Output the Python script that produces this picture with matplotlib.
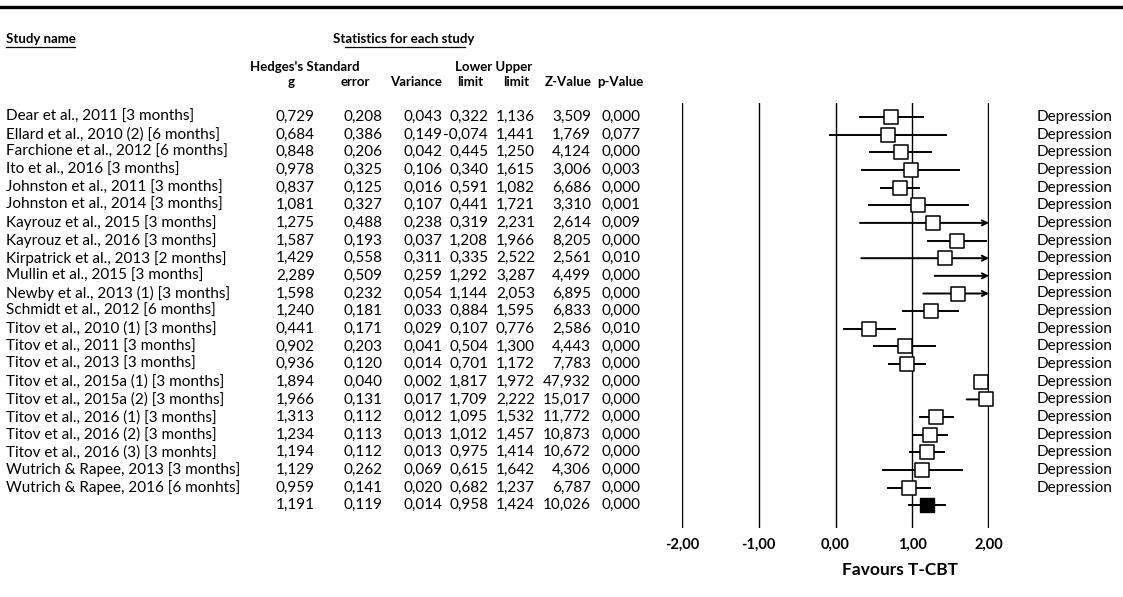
import matplotlib
matplotlib.use("Agg")
import matplotlib.pyplot as plt
from matplotlib.lines import Line2D
from matplotlib.transforms import blended_transform_factory

# Study-level statistics (Hedges's g, T-CBT follow-up)
studies = [
    "Dear et al., 2011 [3 months]",
    "Ellard et al., 2010 (2) [6 months]",
    "Farchione et al., 2012 [6 months]",
    "Ito et al., 2016 [3 months]",
    "Johnston et al., 2011 [3 months]",
    "Johnston et al., 2014 [3 months]",
    "Kayrouz et al., 2015 [3 months]",
    "Kayrouz et al., 2016 [3 months]",
    "Kirpatrick et al., 2013 [2 months]",
    "Mullin et al., 2015 [3 months]",
    "Newby et al., 2013 (1) [3 months]",
    "Schmidt et al., 2012 [6 months]",
    "Titov et al., 2010 (1) [3 months]",
    "Titov et al., 2011 [3 months]",
    "Titov et al., 2013 [3 months]",
    "Titov et al., 2015a (1) [3 months]",
    "Titov et al., 2015a (2) [3 months]",
    "Titov et al., 2016 (1) [3 months]",
    "Titov et al., 2016 (2) [3 months]",
    "Titov et al., 2016 (3) [3 monhts]",
    "Wutrich & Rapee, 2013 [3 months]",
    "Wutrich & Rapee, 2016 [6 monhts]",
]
hedges_g = [0.729, 0.684, 0.848, 0.978, 0.837, 1.081, 1.275, 1.587, 1.429, 2.289, 1.598,
            1.240, 0.441, 0.902, 0.936, 1.894, 1.966, 1.313, 1.234, 1.194, 1.129, 0.959]
std_err = [0.208, 0.386, 0.206, 0.325, 0.125, 0.327, 0.488, 0.193, 0.558, 0.509, 0.232,
           0.181, 0.171, 0.203, 0.120, 0.040, 0.131, 0.112, 0.113, 0.112, 0.262, 0.141]
variance = [0.043, 0.149, 0.042, 0.106, 0.016, 0.107, 0.238, 0.037, 0.311, 0.259, 0.054,
            0.033, 0.029, 0.041, 0.014, 0.002, 0.017, 0.012, 0.013, 0.013, 0.069, 0.020]
lower = [0.322, -0.074, 0.445, 0.340, 0.591, 0.441, 0.319, 1.208, 0.335, 1.292, 1.144,
         0.884, 0.107, 0.504, 0.701, 1.817, 1.709, 1.095, 1.012, 0.975, 0.615, 0.682]
upper = [1.136, 1.441, 1.250, 1.615, 1.082, 1.721, 2.231, 1.966, 2.522, 3.287, 2.053,
         1.595, 0.776, 1.300, 1.172, 1.972, 2.222, 1.532, 1.457, 1.414, 1.642, 1.237]
z_value = [3.509, 1.769, 4.124, 3.006, 6.686, 3.310, 2.614, 8.205, 2.561, 4.499, 6.895,
           6.833, 2.586, 4.443, 7.783, 47.932, 15.017, 11.772, 10.873, 10.672, 4.306, 6.787]
p_value = [0.000, 0.077, 0.000, 0.003, 0.000, 0.001, 0.009, 0.000, 0.010, 0.000, 0.000,
           0.000, 0.010, 0.000, 0.000, 0.000, 0.000, 0.000, 0.000, 0.000, 0.000, 0.000]
outcome = ["Depression"] * len(studies)

# pooled estimate
pooled = dict(g=1.191, se=0.119, var=0.014, lo=0.958, hi=1.424, z=10.026, p=0.000)

x_ticks = [-2, -1, 0, 1, 2]

W, H = 1123, 597
FONT = ["Lato", "DejaVu Sans"]
plt.rcParams["font.family"] = FONT


def fx(px):
    return px / W


def fy(py):
    return 1 - py / H


def fmt(v):
    return f"{v:.3f}".replace(".", ",")


fig = plt.figure(figsize=(W / 100, H / 100), dpi=100)

# forest panel: x from -2 (px 682) to 2 (px 989); rows 17.65 px apart
n = len(studies)
row0, pitch = 117, 17.65
top_px, bot_px = 103, 528
ax = fig.add_axes([fx(682), fy(bot_px), fx(989 - 682), (bot_px - top_px) / H])
ax.set_xlim(-2, 2)
ax.set_ylim(n + (bot_px - (row0 + n * pitch)) / pitch, -(row0 - top_px) / pitch)
ax.axis("off")

for t in x_ticks:
    ax.axvline(t, color="black", lw=1.7 if abs(t) == 2 else 1.0, zorder=1)

for i in range(n):
    lo, hi, g = lower[i], upper[i], hedges_g[i]
    if hi > 2:
        ax.annotate("", xy=(2, i), xytext=(max(lo, -2), i),
                    arrowprops=dict(arrowstyle="->", lw=1.4, color="black",
                                    shrinkA=0, shrinkB=0, mutation_scale=9),
                    zorder=2)
    else:
        ax.plot([max(lo, -2), hi], [i, i], color="black", lw=1.4, zorder=2)
    if g <= 2:
        ax.scatter([g], [i], marker="s", s=100, facecolor="white", edgecolor="black",
                   linewidth=1.1, zorder=3, clip_on=False)

ax.plot([pooled["lo"], pooled["hi"]], [n, n], color="black", lw=1.4, zorder=2)
ax.scatter([pooled["g"]], [n], marker="s", s=100, facecolor="black", edgecolor="black",
           zorder=3, clip_on=False)

for t in x_ticks:
    fig.text(fx(682 + (t + 2) * (989 - 682) / 4), fy(545), f"{t:.2f}".replace(".", ","),
             ha="center", va="center", fontsize=10.5, fontweight="bold")
fig.text(fx(900), fy(570), "Favours T-CBT", ha="center", va="center",
         fontsize=12.5, fontweight="bold")

# table columns, y follows the forest rows
tr = blended_transform_factory(fig.transFigure, ax.transData)
col_right = [315, 383, 443, 488, 535, 591, 641]
fs = 11
for i in range(n):
    fig.text(fx(6), i, studies[i], transform=tr, ha="left", va="center", fontsize=fs)
    vals = [hedges_g[i], std_err[i], variance[i], lower[i], upper[i], z_value[i], p_value[i]]
    for x, v in zip(col_right, vals):
        fig.text(fx(x), i, fmt(v), transform=tr, ha="right", va="center", fontsize=fs)
    fig.text(fx(1037), i, outcome[i], transform=tr, ha="left", va="center", fontsize=fs)

pooled_vals = [pooled[k] for k in ("g", "se", "var", "lo", "hi", "z", "p")]
for x, v in zip(col_right, pooled_vals):
    fig.text(fx(x), n, fmt(v), transform=tr, ha="right", va="center", fontsize=fs)

# headers
hfs = 9.5
fig.text(fx(6), fy(39), "Study name", ha="left", va="center", fontsize=hfs, fontweight="bold")
fig.add_artist(Line2D([fx(6), fx(75)], [fy(47), fy(47)], color="black", lw=0.9))
fig.text(fx(333), fy(39), "Statistics for each study", ha="left", va="center",
         fontsize=hfs, fontweight="bold")
fig.add_artist(Line2D([fx(345), fx(465)], [fy(47), fy(47)], color="black", lw=0.9))

fig.text(fx(250), fy(67), "Hedges's Standard", ha="left", va="center", fontsize=hfs, fontweight="bold")
fig.text(fx(455), fy(67), "Lower Upper", ha="left", va="center", fontsize=hfs, fontweight="bold")
fig.text(fx(291), fy(82), "g", ha="center", va="center", fontsize=hfs, fontweight="bold")
sub_heads = [(370, "error"), (442, "Variance"), (483, "limit"), (529, "limit"),
             (592, "Z-Value"), (643, "p-Value")]
for x, s in sub_heads:
    fig.text(fx(x), fy(82), s, ha="right", va="center", fontsize=hfs, fontweight="bold")

# rule across the top
fig.add_artist(Line2D([0, 1], [fy(7), fy(7)], color="black", lw=2.4))

fig.savefig("out.png", dpi=100)
